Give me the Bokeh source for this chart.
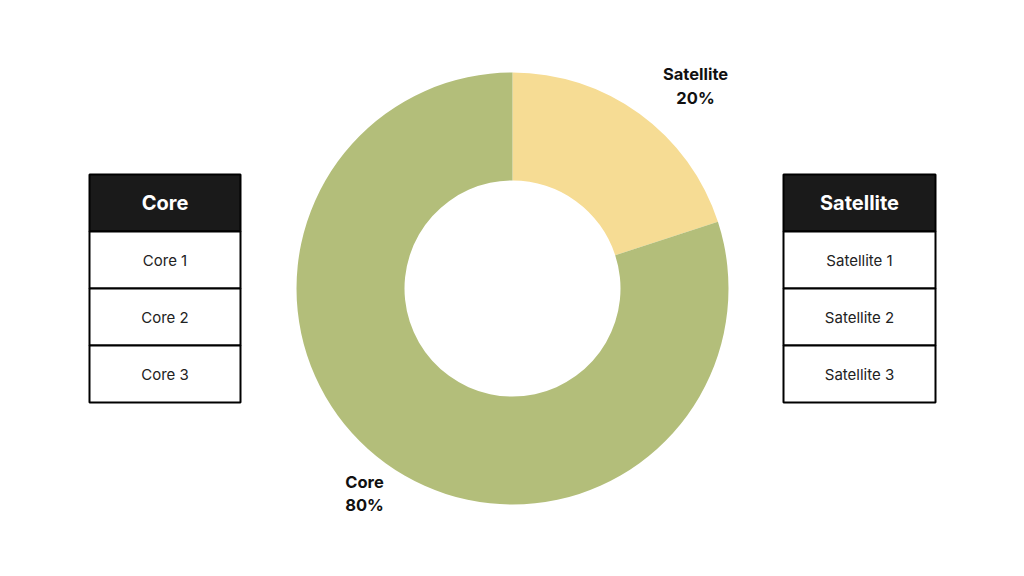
import numpy as np
from bokeh.plotting import figure
from bokeh.models import Range1d
from bokeh.core.properties import value
from bokeh.embed import file_html
from bokeh.resources import INLINE

# ---- data ----
segments = ["Satellite", "Core"]
shares = [20, 80]
colors = ["#F6DC94", "#B3BE7A"]
core_items = ["Core 1", "Core 2", "Core 3"]
satellite_items = ["Satellite 1", "Satellite 2", "Satellite 3"]

FONT = "Inter"

p = figure(width=1008, height=560, output_backend="svg", toolbar_location=None,
           x_range=Range1d(0, 1008), y_range=Range1d(16, 576), min_border=0)
p.axis.visible = False
p.grid.visible = False
p.outline_line_color = None
p.background_fill_color = "white"
p.border_fill_color = "white"

# donut: start at top, go clockwise
cx, cy = 512, 288
total = sum(shares)
fr = np.array(shares) / total
ends = np.pi / 2 - np.concatenate([[0], np.cumsum(fr)[:-1]]) * 2 * np.pi
starts = ends - fr * 2 * np.pi
p.annular_wedge(x=[cx] * len(shares), y=[cy] * len(shares), inner_radius=108, outer_radius=216,
                start_angle=list(starts), end_angle=list(ends), fill_color=colors,
                line_color=None, inner_radius_units="data", outer_radius_units="data")

# slice labels
p.text(x=[695, 695], y=[576 - 73, 576 - 97], text=[segments[0], f"{shares[0]}%"],
       text_font=value(FONT), text_font_style="bold", text_font_size="16.5px",
       text_align="center", text_baseline="middle", text_color="#111111")
p.text(x=[364, 364], y=[576 - 481, 576 - 504], text=[segments[1], f"{shares[1]}%"],
       text_font=value(FONT), text_font_style="bold", text_font_size="16.5px",
       text_align="center", text_baseline="middle", text_color="#111111")

# tables
def table(left, right, title, items):
    top = 402
    h = 57
    p.quad(left=[left], right=[right], top=[top], bottom=[top - h],
           fill_color="#1A1A1A", line_color="black", line_width=2)
    p.text(x=[(left + right) / 2], y=[top - h / 2], text=[title], text_font=value(FONT),
           text_font_style="bold", text_font_size="20px", text_color="white",
           text_align="center", text_baseline="middle")
    n = len(items)
    tops = [top - h * (i + 1) for i in range(n)]
    p.quad(left=[left] * n, right=[right] * n, top=tops, bottom=[t - h for t in tops],
           fill_color="white", line_color="black", line_width=2)
    p.text(x=[(left + right) / 2] * n, y=[t - h / 2 for t in tops], text=items,
           text_font=value(FONT), text_font_size="15px", text_color="#222222",
           text_align="center", text_baseline="middle")

table(89, 240, "Core", core_items)
table(783, 935, "Satellite", satellite_items)

open("out.html", "w").write(file_html(p, INLINE))
